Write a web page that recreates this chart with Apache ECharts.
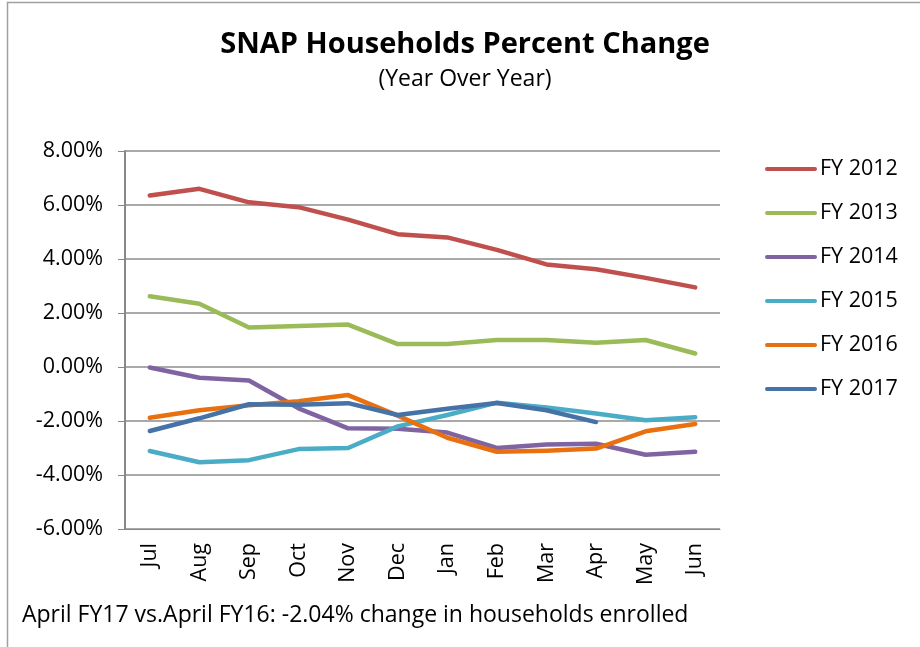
<!DOCTYPE html>
<html>
<head>
<meta charset="utf-8">
<script src="https://cdn.jsdelivr.net/npm/echarts@6/dist/echarts.min.js"></script>
<style>
html,body{margin:0;padding:0;background:#fff;}
#c{width:920px;height:647px;}
</style>
</head>
<body>
<div id="c"></div>
<script>
const months = ['Jul','Aug','Sep','Oct','Nov','Dec','Jan','Feb','Mar','Apr','May','Jun'];
const fy2012 = [6.35, 6.6, 6.1, 5.92, 5.46, 4.92, 4.8, 4.34, 3.8, 3.62, 3.3, 2.95];
const fy2013 = [2.62, 2.34, 1.46, 1.52, 1.57, 0.85, 0.85, 1.0, 1.0, 0.9, 1.0, 0.5];
const fy2014 = [-0.02, -0.4, -0.5, -1.53, -2.27, -2.29, -2.43, -3.0, -2.87, -2.84, -3.25, -3.14];
const fy2015 = [-3.11, -3.53, -3.45, -3.04, -3.0, -2.2, -1.78, -1.32, -1.5, -1.72, -1.97, -1.86];
const fy2016 = [-1.88, -1.6, -1.42, -1.27, -1.04, -1.8, -2.62, -3.14, -3.1, -3.02, -2.38, -2.11];
const fy2017 = [-2.37, -1.9, -1.38, -1.4, -1.34, -1.78, -1.55, -1.33, -1.6, -2.04, null, null];
const seriesNames = ['FY 2012','FY 2013','FY 2014','FY 2015','FY 2016','FY 2017'];
const seriesData = [fy2012, fy2013, fy2014, fy2015, fy2016, fy2017];
const colors = ['#c0504d','#9bbb59','#8064a2','#4bacc6','#e8700f','#4572a7'];
const yTicks = {min: -6, max: 8, interval: 2};
const note = 'April FY17 vs.April FY16: -2.04% change in households enrolled';
const titleText = 'SNAP Households Percent Change';
const subText = '(Year Over Year)';

const FONT = '"Open Sans", sans-serif';
const chart = echarts.init(document.getElementById('c'), null, {renderer:'canvas'});
chart.setOption({
  animation: false,
  backgroundColor: '#fff',
  color: colors,
  title: {
    text: titleText,
    subtext: subText,
    left: 460, top: 25, textAlign: 'center',
    itemGap: 9,
    textStyle: {fontFamily: FONT, fontWeight: 'bold', fontSize: 29, color: '#000'},
    subtextStyle: {fontFamily: FONT, fontSize: 23, color: '#000'}
  },
  grid: {left: 125, right: 200, top: 151, bottom: 118, containLabel: false},
  legend: {
    orient: 'vertical',
    left: 760, top: 153,
    itemWidth: 52, itemHeight: 5, itemGap: 22,
    data: seriesNames.map(function(n){ return {name: n, icon: 'path://M2,0 L50,0 A2,2 0 0 1 50,4 L2,4 A2,2 0 0 1 2,0 Z'}; }),
    textStyle: {fontFamily: FONT, fontSize: 21.5, color: '#000', lineHeight: 21, padding: [0,0,0,-2]}
  },
  xAxis: {
    type: 'category',
    data: months,
    boundaryGap: true,
    axisLine: {onZero: false, lineStyle: {color: '#888', width: 1}},
    axisTick: {show: false},
    axisLabel: {rotate: 90, margin: 14, fontFamily: FONT, fontSize: 21.5, color: '#000'}
  },
  yAxis: {
    type: 'value',
    min: yTicks.min, max: yTicks.max, interval: yTicks.interval,
    axisLine: {show: true, lineStyle: {color: '#888', width: 2}},
    axisTick: {show: true, inside: false, length: 7, lineStyle: {color: '#888', width: 1}},
    splitLine: {show: true, lineStyle: {color: '#8c8c8c', width: 1.5}},
    axisLabel: {
      margin: 22, fontFamily: FONT, fontSize: 21.5, color: '#000',
      formatter: function(v){ return v.toFixed(2) + '%'; }
    }
  },
  series: seriesData.map(function(d, i){
    return {
      name: seriesNames[i], type: 'line', data: d,
      showSymbol: false, symbol: 'none',
      lineStyle: {width: 4.5, color: colors[i], cap: 'round', join: 'round'},
      itemStyle: {color: colors[i]},
      emphasis: {disabled: true}
    };
  }),
  graphic: [
    {type: 'rect', left: 5, top: 0, shape: {width: 930, height: 646},
     style: {fill: 'none', stroke: '#a0a0a0', lineWidth: 1.5}, silent: true, z: -1},
    {type: 'text', left: 22, top: 604,
     style: {text: note, fontFamily: FONT, fontSize: 23, fill: '#000'}}
  ]
});
</script>
</body>
</html>
